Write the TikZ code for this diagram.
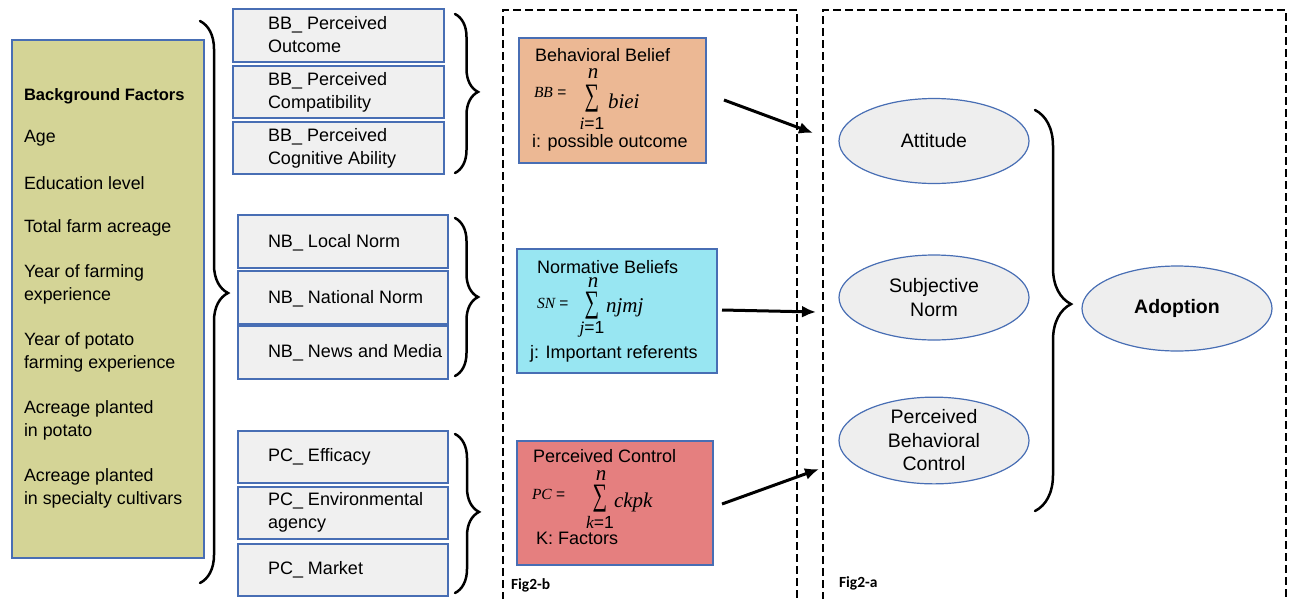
\documentclass[tikz,border=0pt]{standalone}
\usepackage{fontspec}
\usepackage{graphicx}
\setmainfont{Liberation Sans}
\newfontfamily\figfont{Carlito}
\newfontfamily\fserif{Liberation Serif}
\usetikzlibrary{arrows.meta,decorations.pathreplacing,shapes.geometric}
\definecolor{olivebg}{RGB}{212,212,150}
\definecolor{boxblue}{RGB}{72,110,180}
\definecolor{boxgray}{RGB}{240,240,240}
\definecolor{bbfill}{RGB}{236,184,148}
\definecolor{nbfill}{RGB}{152,230,242}
\definecolor{pcfill}{RGB}{229,127,127}
\definecolor{ellfill}{RGB}{238,238,238}
\newcommand{\bigsum}{\scalebox{0.85}[1.3]{\fserif ∑}}
\newcommand{\fit}[1]{{\fserif\itshape #1}}
\begin{document}
\begin{tikzpicture}[x=1pt,y=-1pt,
  every node/.style={inner sep=0pt, outer sep=0pt},
  txt/.style={font=\fontsize{18}{23}\selectfont, align=left, anchor=west},
  bgtxt/.style={font=\fontsize{17.8}{23}\selectfont, align=left, anchor=west},
  fbox/.style={draw=boxblue, line width=1.6pt, fill=boxgray, minimum height=52pt},
  bbw/.style={fbox, minimum width=211pt},
  nbw/.style={fbox, minimum width=210pt},
  beliefbox/.style={draw=boxblue, line width=1.2pt, minimum height=124pt},
  ell/.style={ellipse, draw=boxblue, line width=1.2pt, fill=ellfill, minimum width=190pt, minimum height=85pt, align=center, font=\fontsize{19.5}{23.5}\selectfont},
  bracestyle/.style={decorate, line width=2.5pt, line cap=round},
  frame/.style={line width=2.5pt, dash pattern=on 8pt off 4pt},
  arr/.style={line width=3pt, -{Latex[length=14pt,width=12pt]}},
  figlbl/.style={font=\figfont\bfseries\fontsize{15.5}{18}\selectfont, anchor=west},
  lhs/.style={font=\fontsize{15.5}{17}\selectfont, anchor=west},
  upn/.style={font=\fontsize{21}{22}\selectfont},
  low/.style={font=\fontsize{17.5}{20}\selectfont},
  term/.style={font=\fontsize{21}{22}\selectfont, anchor=west},
  sumsign/.style={font=\fontsize{24}{26}\selectfont}
]
\useasboundingbox (0,0) rectangle (1290,598);

% ---------- Background factors ----------
\node[draw=boxblue, line width=1.6pt, fill=olivebg, minimum width=192pt, minimum height=518pt] (bg) at (108,299) {};
\node[font=\fontsize{16.5}{20}\selectfont\bfseries, anchor=west] (bgt) at (24,96) {Background Factors};
\node[bgtxt] (f1) at (24,138) {Age};
\node[bgtxt] (f2) at (24,183) {Education level};
\node[bgtxt] (f3) at (24,228) {Total farm acreage};
\node[bgtxt] (f4) at (24,284.5) {Year of farming\\experience};
\node[bgtxt] (f5) at (24,352.5) {Year of potato\\farming experience};
\node[bgtxt] (f6) at (24,420.5) {Acreage planted\\in potato};
\node[bgtxt] (f7) at (24,488) {Acreage planted\\in specialty cultivars};

\draw[bracestyle, decoration={brace, amplitude=28pt, aspect=0.484}] (200,21) -- (200,583);

% ---------- BB boxes ----------
\node[bbw, minimum height=53pt] (bb1) at (338.5,35.5) {};
\node[bbw] (bb2) at (338.5,92) {};
\node[bbw] (bb3) at (338.5,148) {};
\node[txt] at (268,35) {BB\_ Perceived\\Outcome};
\node[txt] at (268,92) {BB\_ Perceived\\Compatibility};
\node[txt] at (268,148) {BB\_ Perceived\\Cognitive Ability};
\draw[bracestyle, decoration={brace, amplitude=23pt, aspect=0.49}] (455,14) -- (455,173);

% ---------- NB boxes ----------
\node[nbw, minimum height=53pt] (nb1) at (343,241.5) {};
\node[nbw, minimum height=53pt] (nb2) at (343,297.5) {};
\node[nbw, minimum height=53pt] (nb3) at (343,352.5) {};
\node[txt] at (268,243) {NB\_ Local Norm};
\node[txt] at (268,299) {NB\_ National Norm};
\node[txt] at (268,353) {NB\_ News and Media};
\draw[bracestyle, decoration={brace, amplitude=23pt, aspect=0.5}] (455,218) -- (455,376);

% ---------- PC boxes ----------
\node[nbw] (pc1) at (343,457) {};
\node[nbw] (pc2) at (343,513) {};
\node[nbw] (pc3) at (343,570) {};
\node[txt] at (268,457) {PC\_ Efficacy};
\node[txt] at (268,512) {PC\_ Environmental\\agency};
\node[txt] at (268,570) {PC\_ Market};
\draw[bracestyle, decoration={brace, amplitude=24pt, aspect=0.49}] (455,434) -- (455,593);

% ---------- Fig2-b frame ----------
\draw[frame] (503,600) -- (503,10) -- (797,10) -- (797,600);
\node[figlbl] (figb) at (511,585) {Fig2-b};

% Behavioral belief
\node[beliefbox, fill=bbfill, minimum width=187pt, minimum height=125pt] (bbb) at (612.5,100.5) {};
\node[txt] at (535,55) {Behavioral Belief};
\node[lhs] at (534,92) {\fit{BB} =};
\node[sumsign] at (592,99) {\bigsum};
\node[upn] at (593,74) {\fit{n}};
\node[low] at (592,123) {\fit{i}=1};
\node[term] at (608,101) {\fit{biei}};
\node[txt] at (532,143) {i: possible outcome};

% Normative beliefs
\node[beliefbox, fill=nbfill, minimum width=200pt] (nbb) at (617,311) {};
\node[txt] at (537,267) {Normative Beliefs};
\node[lhs] at (537,303) {\fit{SN} =};
\node[sumsign] at (592,306) {\bigsum};
\node[upn] at (593,283) {\fit{n}};
\node[low] at (592,329) {\fit{j}=1};
\node[term] at (606,308) {\fit{njmj}};
\node[txt] at (530,354) {j: Important referents};

% Perceived control
\node[beliefbox, fill=pcfill, minimum width=196pt] (pcb) at (615,503) {};
\node[txt] at (533,456) {Perceived Control};
\node[lhs] at (532,494) {\fit{PC} =};
\node[sumsign] at (600,499) {\bigsum};
\node[upn] at (601,476) {\fit{n}};
\node[low] at (600,522) {\fit{k}=1};
\node[term] at (614,502) {\fit{ckpk}};
\node[txt] at (536,538) {K: Factors};

% ---------- Fig2-a frame ----------
\draw[frame] (823,600) -- (823,10) -- (1286,10) -- (1286,600);
\node[figlbl] (figa) at (839,583) {Fig2-a};

\node[ell] (att) at (934,141) {Attitude};
\node[ell] (sn) at (934,297.5) {Subjective\\Norm};
\node[ell] (pbc) at (934,440.5) {Perceived\\Behavioral\\Control};
\node[ell, font=\fontsize{19.5}{23.5}\selectfont\bfseries] (adopt) at (1177,308.5) {Adoption};
\draw[bracestyle, decoration={brace, amplitude=36pt, aspect=0.484}] (1035,110) -- (1035,511);

% ---------- arrows ----------
\coordinate (a1s) at (724,100);
\coordinate (a1e) at (813,133);
\coordinate (a2s) at (722,310);
\coordinate (a2e) at (816,312);
\coordinate (a3s) at (722,504);
\coordinate (a3e) at (819,469);
\draw[arr] (a1s) -- (a1e);
\draw[arr] (a2s) -- (a2e);
\draw[arr] (a3s) -- (a3e);
\end{tikzpicture}
\end{document}
